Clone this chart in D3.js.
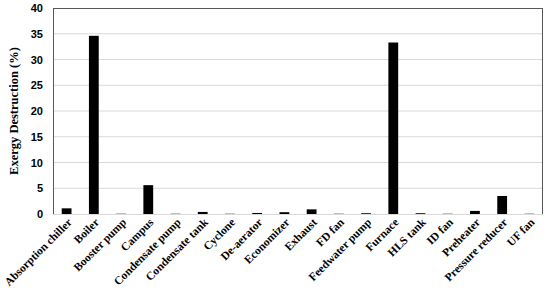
<!DOCTYPE html>
<html><head><meta charset="utf-8">
<script src="https://cdn.jsdelivr.net/npm/d3@7"></script>
<style>body{margin:0;background:#fff}svg{display:block}</style>
</head><body>
<script>
const categories = ["Absorption chiller","Boiler","Booster pump","Campus","Condensate pump","Condensate tank","Cyclone","De-aerator","Economizer","Exhaust","FD fan","Feedwater pump","Furnace","HLS tank","ID fan","Preheater","Pressure reducer","UF fan"];
const values = [1.1,34.6,0.05,5.6,0.05,0.4,0.05,0.2,0.35,0.9,0.05,0.15,33.3,0.15,0.05,0.6,3.5,0.05];
const yTicks = [0,5,10,15,20,25,30,35,40];

const W=550,H=296, m={l:53,r:7,t:8,b:82};
const svg=d3.select("body").append("svg").attr("width",W).attr("height",H);
const x=d3.scaleBand().domain(categories).range([m.l,W-m.r]).paddingInner(0.64).paddingOuter(0.32);
const y=d3.scaleLinear().domain([0,40]).range([H-m.b,m.t]);

// gridlines
svg.append("g").selectAll("line").data(yTicks.filter(d=>d>0&&d<40)).join("line")
 .attr("x1",m.l).attr("x2",W-m.r).attr("y1",d=>y(d)).attr("y2",d=>y(d))
 .attr("stroke","#d9d9d9").attr("stroke-width",1);

// bars
svg.append("g").selectAll("rect").data(values).join("rect")
 .attr("x",(d,i)=>x(categories[i])).attr("width",x.bandwidth())
 .attr("y",d=>y(d)).attr("height",d=>y(0)-y(d)).attr("fill","#000");

// border
svg.append("rect").attr("x",m.l+0.5).attr("y",m.t+0.5).attr("width",W-m.r-m.l-1).attr("height",H-m.b-m.t)
 .attr("fill","none").attr("stroke","#595959").attr("stroke-width",1);
svg.append("line").attr("x1",m.l).attr("x2",W-m.r).attr("y1",y(0)+0.5).attr("y2",y(0)+0.5).attr("stroke","#d9d9d9");

// y axis
const ya=svg.append("g").attr("transform",`translate(${m.l},0)`)
 .call(d3.axisLeft(y).tickValues(yTicks).tickSize(0).tickPadding(10));
ya.select(".domain").remove();
ya.selectAll("text").attr("font-family","'Liberation Sans',Arial,sans-serif").attr("font-weight","bold").attr("font-size","11px").attr("fill","#000");

// x axis
const xa=svg.append("g").attr("transform",`translate(0,${y(0)})`)
 .call(d3.axisBottom(x).tickSize(0).tickPadding(0));
xa.select(".domain").remove();
xa.selectAll("text").attr("font-family","'Liberation Serif','Times New Roman',serif").attr("font-weight","bold").attr("font-size","11.5px").attr("fill","#000")
 .attr("text-anchor","end").attr("dy",null).attr("dx",null)
 .attr("transform","translate(6,9) rotate(-45)");

svg.append("text").attr("transform",`translate(18,${(m.t+y(0))/2}) rotate(-90)`)
 .attr("text-anchor","middle").attr("font-family","'Liberation Serif','Times New Roman',serif")
 .attr("font-weight","bold").attr("font-size","12.5px").text("Exergy Destruction (%)");
</script>
</body></html>
